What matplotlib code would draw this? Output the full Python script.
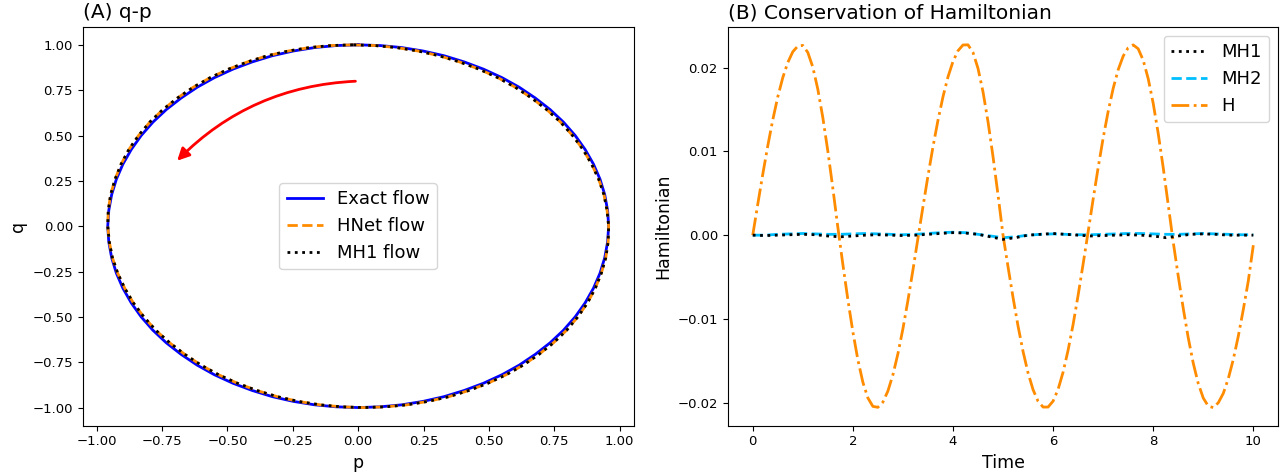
import numpy as np
import matplotlib
matplotlib.use('Agg')
import matplotlib.pyplot as plt

# (A) q-p : puntos (sentido antihorario, desde arriba)
exact_p = [0.000, -0.084, -0.166, -0.248, -0.328, -0.405, -0.479, -0.550, -0.616, -0.677,
           -0.734, -0.785, -0.830, -0.868, -0.900, -0.925, -0.943, -0.954, -0.958,
           -0.954, -0.943, -0.925, -0.900, -0.868, -0.830, -0.785, -0.734, -0.677,
           -0.616, -0.550, -0.479, -0.405, -0.328, -0.248, -0.166, -0.084, 0.000,
           0.084, 0.166, 0.248, 0.328, 0.405, 0.479, 0.550, 0.616, 0.677,
           0.734, 0.785, 0.830, 0.868, 0.900, 0.925, 0.943, 0.954, 0.958,
           0.954, 0.943, 0.925, 0.900, 0.868, 0.830, 0.785, 0.734, 0.677,
           0.616, 0.550, 0.479, 0.405, 0.328, 0.248, 0.166, 0.084, 0.000]
exact_q = [1.000, 0.996, 0.985, 0.966, 0.940, 0.906, 0.866, 0.819, 0.766, 0.707,
           0.643, 0.574, 0.500, 0.423, 0.342, 0.259, 0.174, 0.087, 0.000,
           -0.087, -0.174, -0.259, -0.342, -0.423, -0.500, -0.574, -0.643, -0.707,
           -0.766, -0.819, -0.866, -0.906, -0.940, -0.966, -0.985, -0.996, -1.000,
           -0.996, -0.985, -0.966, -0.940, -0.906, -0.866, -0.819, -0.766, -0.707,
           -0.643, -0.574, -0.500, -0.423, -0.342, -0.259, -0.174, -0.087, 0.000,
           0.087, 0.174, 0.259, 0.342, 0.423, 0.500, 0.574, 0.643, 0.707,
           0.766, 0.819, 0.866, 0.906, 0.940, 0.966, 0.985, 0.996, 1.000]

hnet_p = [-0.020, -0.104, -0.186, -0.267, -0.347, -0.423, -0.496, -0.566, -0.631, -0.691,
          -0.747, -0.797, -0.840, -0.877, -0.907, -0.930, -0.947, -0.956, -0.958,
          -0.952, -0.940, -0.920, -0.893, -0.860, -0.820, -0.774, -0.721, -0.663,
          -0.601, -0.534, -0.462, -0.387, -0.309, -0.229, -0.146, -0.064, 0.020,
          0.104, 0.186, 0.267, 0.347, 0.423, 0.496, 0.566, 0.631, 0.691,
          0.747, 0.797, 0.840, 0.877, 0.907, 0.930, 0.947, 0.956, 0.958,
          0.952, 0.940, 0.920, 0.893, 0.860, 0.820, 0.774, 0.721, 0.663,
          0.601, 0.534, 0.462, 0.387, 0.309, 0.229, 0.146, 0.064, -0.020]
hnet_q = exact_q

mh1_p = hnet_p
mh1_q = hnet_q

# (B) Hamiltoniano
time_h = np.linspace(0, 10, 101)
H = [0.0, 0.00368, 0.00726, 0.01065, 0.01376, 0.0165, 0.0188, 0.0206, 0.02188, 0.02256,
     0.02264, 0.0218, 0.02005, 0.01741, 0.01403, 0.01003, 0.0056, 0.00094, -0.00348, -0.00768,
     -0.01153, -0.01487, -0.01755, -0.01942, -0.02043, -0.02054, -0.01992, -0.0186, -0.01667, -0.01415,
     -0.01117, -0.00779, -0.00416, -0.00038, 0.00338, 0.00705, 0.01052, 0.0137, 0.0165, 0.01888,
     0.02072, 0.022, 0.02269, 0.02271, 0.0218, 0.0199, 0.0171, 0.01354, 0.00937, 0.0048,
     0.0, -0.00378, -0.00744, -0.01085, -0.01388, -0.01644, -0.01844, -0.01982, -0.02051, -0.02051,
     -0.0198, -0.0184, -0.01634, -0.01372, -0.01065, -0.00717, -0.00344, 0.00039, 0.00429, 0.00805,
     0.01158, 0.01476, 0.0175, 0.01973, 0.02136, 0.02236, 0.0227, 0.02224, 0.02088, 0.01868,
     0.01573, 0.01214, 0.00806, 0.00363, -0.00082, -0.00487, -0.00873, -0.01224, -0.01527, -0.0177,
     -0.01943, -0.0204, -0.02057, -0.02, -0.01888, -0.01712, -0.01483, -0.01205, -0.00888, -0.00546,
     -0.0012]

time_mh = np.linspace(0, 10, 41)
MH1 = [0.0, -0.00005, 0.0, 0.00005, 0.0001, 0.00005, -0.0001, -0.0002, -0.0001, 0.0,
       0.00005, 0.0, -0.00005, 0.0, 0.0001, 0.0002, 0.0003, 0.00025, 0.0001, -0.0002,
       -0.0005, -0.0003, 0.0, 0.0001, 0.0002, 0.0001, 0.0, -0.0001, -0.00005, 0.0,
       0.00005, 0.0, -0.0001, -0.0003, -0.0001, 0.0001, 0.00015, 0.0001, 0.0, 0.0,
       0.0]
MH2 = [0.0, 0.0, 0.0001, 0.00015, 0.0002, 0.00015, 0.0001, 0.0001, 0.00015, 0.0002,
       0.00015, 0.0001, 0.00005, 0.0001, 0.0002, 0.0003, 0.00035, 0.0003, 0.0001, -0.0001,
       -0.0003, -0.0002, 0.0, 0.0001, 0.00015, 0.0001, 0.00005, 0.00005, 0.0001, 0.00015,
       0.0002, 0.0002, 0.00015, 0.0001, 0.0001, 0.00015, 0.0002, 0.00015, 0.0001, 0.00005,
       0.00005]

fig = plt.figure(figsize=(12.88, 4.74), dpi=100)
ax1 = fig.add_axes([0.0642, 0.1019, 0.4278, 0.8418])
ax2 = fig.add_axes([0.565, 0.1019, 0.4275, 0.8418])

ax1.plot(exact_p, exact_q, color='blue', lw=2, label='Exact flow')
ax1.plot(hnet_p, hnet_q, color='darkorange', lw=2, ls='--', label='HNet flow')
ax1.plot(mh1_p, mh1_q, color='black', lw=2, ls=':', label='MH1 flow')
ax1.annotate('', xy=(-0.7, 0.35), xytext=(0.0, 0.8),
             arrowprops=dict(arrowstyle='-|>', color='red', lw=2,
                             mutation_scale=18,
                             connectionstyle='arc3,rad=0.2'))
ax1.set_xlabel('p', fontsize=12.5)
ax1.set_ylabel('q', fontsize=12.5)
ax1.set_title('(A) q-p', loc='left', fontsize=14.5)
ax1.tick_params(labelsize=9.5)
ax1.legend(loc='center', fontsize=13)

ax2.plot(time_mh, MH1, color='black', lw=2, ls=':', label='MH1', zorder=3)
ax2.plot(time_mh, MH2, color='deepskyblue', lw=2, ls='--', label='MH2')
ax2.plot(time_h, H, color='darkorange', lw=2, ls='-.', label='H')
ax2.set_xlabel('Time', fontsize=12.5)
ax2.set_ylabel('Hamiltonian', fontsize=12.5)
ax2.set_title('(B) Conservation of Hamiltonian', loc='left', fontsize=14.5)
ax2.tick_params(labelsize=9.5)
ax2.legend(loc='upper right', fontsize=13)

fig.savefig('out.png', dpi=100)
